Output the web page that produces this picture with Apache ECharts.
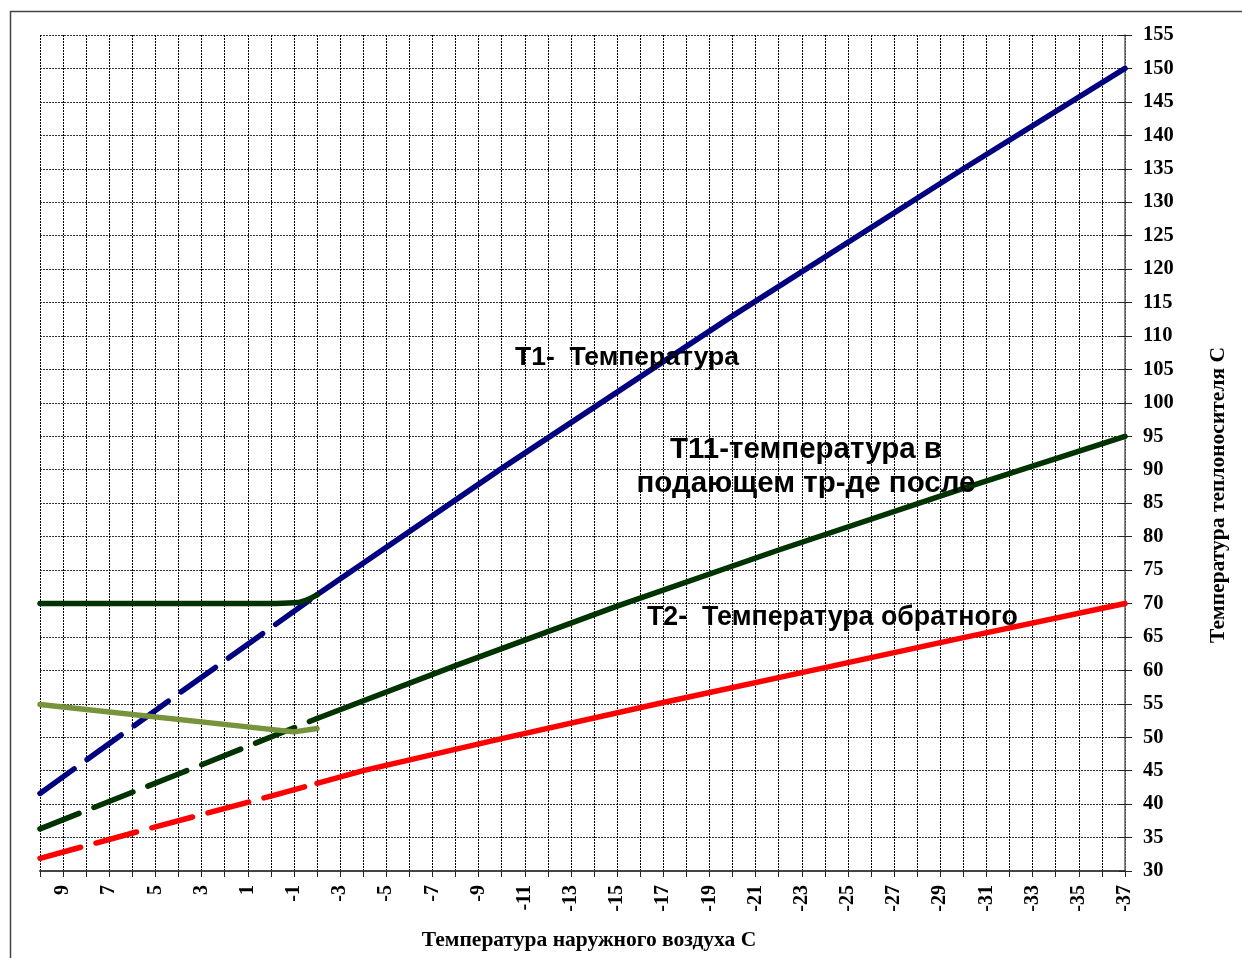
<!DOCTYPE html>
<html>
<head>
<meta charset="utf-8">
<script src="https://cdn.jsdelivr.net/npm/echarts@6.0.0/dist/echarts.min.js"></script>
<style>
html,body{margin:0;padding:0;background:#fff;}
#chart{width:1242px;height:958px;}
</style>
</head>
<body>
<div id="chart"></div>
<script>
// ---- data ----
// outdoor temperature axis: from +10 (left) to -37 (right)
const xMin = -37, xMax = 10, xStep = 1;
const yMin = 30, yMax = 155, yStep = 5;

// T1 – supply temperature
const t1X = [10, 4, -2, -10, -20, -30, -37];
const t1Y = [41.6, 56.5, 71.3, 90.2, 113.0, 135.0, 150.0];

// T11 – supply after mixing
const t11X = [10, 4, -2, -8, -15, -22, -30, -37];
const t11Y = [36.3, 44.5, 52.8, 60.7, 69.6, 78.0, 87.2, 95.0];

// T2 – return temperature
const t2X = [10, 5, 0, -2, -4, -10, -17, -24, -30, -37];
const t2Y = [31.9, 36.6, 41.2, 43.1, 45.0, 49.8, 55.2, 60.4, 64.9, 70.0];

// flat 70 °C line joining T1
const flatX = [10, 0, -1, -2];
const flatY = [70, 70, 70.1, 71.3];

// olive line
const oliveX = [10, -1, -2];
const oliveY = [54.9, 50.8, 51.3];

// x where dashed part turns solid
const splitX = -2;

const labels = {
  t1: 'T1-  Температура',
  t11: 'T11-температура в\nподающем тр-де после',
  t2: 'T2-  Температура обратного',
  xName: 'Температура наружного воздуха С',
  yName: 'Температура теплоносителя С'
};

// ---- build ----
function pairs(xs, ys) { return xs.map((x, i) => [x, ys[i]]); }
function dashedPart(xs, ys) { return pairs(xs, ys).filter(p => p[0] >= splitX); }
function solidPart(xs, ys) { return pairs(xs, ys).filter(p => p[0] <= splitX); }

const NAVY = '#000080', DKGREEN = '#003300', RED = '#ff0000', OLIVE = '#77933c';
const DASH = [42, 16];
const serif = '"Liberation Serif", "Times New Roman", serif';
const sans = '"Liberation Sans", Arial, sans-serif';

function line(data, color, dashed, extra) {
  return Object.assign({
    type: 'line',
    data: data,
    symbol: 'none',
    silent: true,
    lineStyle: { color: color, width: 5.5, type: dashed ? DASH : 'solid', cap: 'round', join: 'round' }
  }, extra || {});
}

const chart = echarts.init(document.getElementById('chart'), null, { renderer: 'canvas' });
chart.setOption({
  animation: false,
  backgroundColor: '#fff',
  grid: { left: 40, right: 117, top: 35, bottom: 87, containLabel: false },
  xAxis: {
    type: 'value',
    inverse: true,
    min: xMin, max: xMax, interval: xStep,
    axisLine: { onZero: false, lineStyle: { color: '#444', width: 2 } },
    axisTick: { show: true, length: 6, lineStyle: { color: '#222', width: 1 } },
    axisLabel: {
      rotate: 90,
      margin: 14,
      fontFamily: serif, fontWeight: 'bold', fontSize: 20, color: '#000',
      showMinLabel: true, showMaxLabel: true,
      formatter: v => (Math.abs(Math.round(v)) % 2 === 1 ? String(Math.round(v)) : '')
    },
    splitLine: { show: true, lineStyle: { color: '#000', type: [2, 1], width: 1 } }
  },
  yAxis: [{
    type: 'value',
    position: 'right',
    min: yMin, max: yMax, interval: yStep,
    axisLine: { show: true, onZero: false, lineStyle: { color: '#666', width: 1.5 } },
    axisTick: { show: true, length: 7, lineStyle: { color: '#222', width: 1 } },
    axisLabel: { margin: 18, fontFamily: serif, fontWeight: 'bold', fontSize: 20.5, color: '#000' },
    splitLine: { show: true, lineStyle: { color: '#333', type: [2, 1], width: 1 } }
  }, {
    type: 'value',
    position: 'right',
    min: yMin, max: yMax, interval: yStep,
    axisLine: { show: false, onZero: false },
    axisTick: { show: true, inside: true, length: 6, lineStyle: { color: '#222', width: 1 } },
    axisLabel: { show: false },
    splitLine: { show: false }
  }],
  series: [
    line(dashedPart(t1X, t1Y), NAVY, true),
    line(solidPart(t1X, t1Y), NAVY, false),
    line(dashedPart(t2X, t2Y), RED, true),
    line(solidPart(t2X, t2Y), RED, false),
    line(dashedPart(t11X, t11Y), DKGREEN, true),
    line(solidPart(t11X, t11Y), DKGREEN, false),
    line(pairs(flatX, flatY), DKGREEN, false, { smooth: 0.4, smoothMonotone: 'x' }),
    line(pairs(oliveX, oliveY), OLIVE, false)
  ],
  graphic: [
    { type: 'rect', silent: true, z: 100,
      shape: { x: 10.5, y: 11.5, width: 1400, height: 1100 },
      style: { fill: null, stroke: '#444', lineWidth: 1.5 } },
    { type: 'text', silent: true, z: 100, x: 515, y: 358,
      style: { text: labels.t1, font: 'bold 26.5px ' + sans, fill: '#000', align: 'left', verticalAlign: 'middle' } },
    { type: 'text', silent: true, z: 100, x: 806, y: 467,
      style: { text: labels.t11, font: 'bold 29.5px ' + sans, fill: '#000', align: 'center', verticalAlign: 'middle', lineHeight: 34 } },
    { type: 'text', silent: true, z: 100, x: 647, y: 618,
      style: { text: labels.t2, font: 'bold 26.8px ' + sans, fill: '#000', align: 'left', verticalAlign: 'middle' } },
    { type: 'text', silent: true, z: 100, x: 589, y: 940,
      style: { text: labels.xName, font: 'bold 21.5px ' + serif, fill: '#000', align: 'center', verticalAlign: 'middle' } },
    { type: 'text', silent: true, z: 100, x: 1218, y: 495, rotation: Math.PI / 2,
      style: { text: labels.yName, font: 'bold 21.5px ' + serif, fill: '#000', align: 'center', verticalAlign: 'middle' } }
  ]
});
</script>
</body>
</html>
